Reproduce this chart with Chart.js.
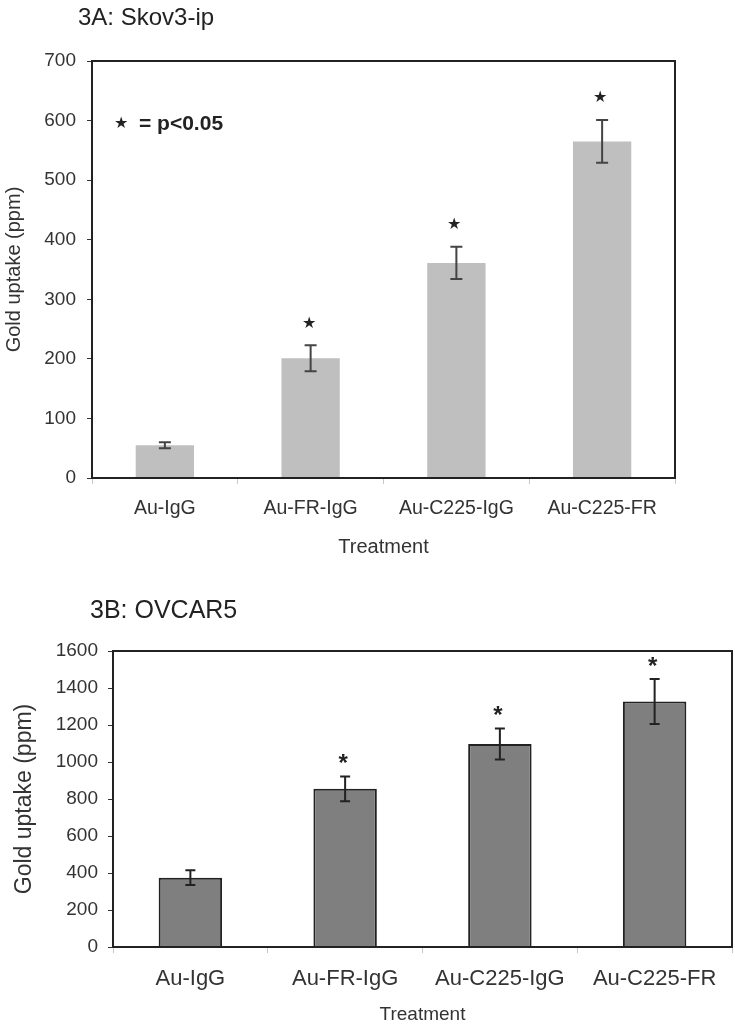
<!DOCTYPE html>
<html>
<head>
<meta charset="utf-8">
<script src="https://cdn.jsdelivr.net/npm/chart.js@4"></script>
<style>
  body { margin: 0; background: #fff; }
  .panel { position: absolute; left: 0; width: 735px; }
  #panelA { top: 0; height: 560px; }
  #panelB { top: 590px; height: 436px; }
</style>
</head>
<body>
<div class="panel" id="panelA"><canvas id="chartA"></canvas></div>
<div class="panel" id="panelB"><canvas id="chartB"></canvas></div>
<script>
const categories = ['Au-IgG', 'Au-FR-IgG', 'Au-C225-IgG', 'Au-C225-FR'];

// 3A: Skov3-ip
const skovValues = [55, 201, 361, 565];
const skovErrors = [5, 22, 27, 36];
const skovSignificant = [false, true, true, true];

// 3B: OVCAR5
const ovcarValues = [375, 855, 1097, 1327];
const ovcarErrors = [40, 67, 84, 122];
const ovcarSignificant = [false, true, true, true];

const FONT = '"Liberation Sans", Arial, sans-serif';
Chart.defaults.font.family = FONT;
Chart.defaults.color = '#333';

// draws the frame, error bars, significance marks and panel text
const extras = {
    id: 'extras',
    afterDatasetsDraw(chart, args, opts) {
        const ctx = chart.ctx;
        const area = chart.chartArea;
        const y = chart.scales.y;
        const bars = chart.getDatasetMeta(0).data;

        ctx.save();
        // error bars
        ctx.strokeStyle = opts.errColor;
        ctx.lineWidth = 2;
        bars.forEach((bar, i) => {
            const v = opts.values[i], e = opts.errors[i];
            const top = y.getPixelForValue(v + e);
            const bot = y.getPixelForValue(v - e);
            ctx.beginPath();
            ctx.moveTo(bar.x, top); ctx.lineTo(bar.x, bot);
            ctx.moveTo(bar.x - opts.cap, top); ctx.lineTo(bar.x + opts.cap, top);
            ctx.moveTo(bar.x - opts.cap, bot); ctx.lineTo(bar.x + opts.cap, bot);
            ctx.stroke();
        });

        // significance marks
        ctx.fillStyle = '#222';
        ctx.textAlign = 'center';
        ctx.textBaseline = 'middle';
        ctx.font = opts.starFont;
        bars.forEach((bar, i) => {
            if (!opts.significant[i]) return;
            const top = y.getPixelForValue(opts.values[i] + opts.errors[i]);
            ctx.fillText(opts.star, bar.x - 2, top - opts.starGap);
        });

        // frame
        ctx.strokeStyle = '#222';
        ctx.lineWidth = 2;
        ctx.strokeRect(area.left, area.top, area.right - area.left, area.bottom - area.top);

        // note
        if (opts.note) {
            ctx.textAlign = 'left';
            ctx.font = '16px ' + FONT;
            ctx.fillText('\u2605', area.left + 22, area.top + 63);
            ctx.font = 'bold 21px ' + FONT;
            ctx.fillText(opts.note, area.left + 47, area.top + 63);
        }

        // panel title
        ctx.fillStyle = '#222';
        ctx.textAlign = 'left';
        ctx.font = opts.titleFont;
        ctx.fillText(opts.title, opts.titleX, opts.titleY);
        ctx.restore();
    }
};

function makeChart(id, cfg) {
    return new Chart(document.getElementById(id), {
        type: 'bar',
        data: {
            labels: categories,
            datasets: [{
                data: cfg.values,
                backgroundColor: cfg.barColor,
                borderColor: cfg.barBorder,
                borderWidth: cfg.barBorderWidth,
                categoryPercentage: 1,
                barPercentage: cfg.barPct
            }]
        },
        options: {
            responsive: true,
            maintainAspectRatio: false,
            animation: false,
            layout: { padding: cfg.padding },
            plugins: {
                legend: { display: false },
                tooltip: { enabled: false },
                extras: cfg.extras
            },
            scales: {
                x: {
                    afterFit: (s) => { s.height = cfg.xHeight; },
                    border: { display: false },
                    grid: { drawOnChartArea: false, tickLength: 6, color: '#c8c8c8' },
                    ticks: { font: { size: cfg.xFont }, color: '#333', padding: cfg.xPad },
                    title: { display: true, text: 'Treatment', font: { size: cfg.xTitleFont }, color: '#333', padding: { top: 0, bottom: cfg.xTitlePad } }
                },
                y: {
                    min: 0, max: cfg.max,
                    afterFit: (s) => { s.width = cfg.yWidth; },
                    border: { display: false },
                    grid: { drawOnChartArea: false, tickLength: 5, color: '#333' },
                    ticks: { stepSize: cfg.step, font: { size: cfg.yFont }, color: '#333', padding: cfg.yPad, callback: (v) => String(v) },
                    title: { display: true, text: 'Gold uptake (ppm)', font: { size: cfg.yTitleFont }, color: '#333', padding: { top: cfg.yTitlePad, bottom: 0 } }
                }
            }
        },
        plugins: [extras]
    });
}

makeChart('chartA', {
    values: skovValues, max: 700, step: 100,
    barColor: '#bfbfbf', barBorder: '#bfbfbf', barBorderWidth: 0, barPct: 0.4,
    padding: { left: 0, right: 60, top: 61, bottom: 0 },
    xHeight: 82, yWidth: 92,
    xFont: 19.5, xPad: 13, xTitleFont: 20, xTitlePad: 1,
    yFont: 19, yPad: 11, yTitleFont: 20, yTitlePad: 2,
    extras: {
        values: skovValues, errors: skovErrors, significant: skovSignificant,
        errColor: '#444', cap: 6, star: '\u2605', starFont: '16px ' + FONT, starGap: 22,
        note: '= p<0.05',
        title: '3A: Skov3-ip', titleFont: '24px ' + FONT, titleX: 78, titleY: 18
    }
});

makeChart('chartB', {
    values: ovcarValues, max: 1600, step: 200,
    barColor: '#7f7f7f', barBorder: '#222', barBorderWidth: 2, barPct: 0.41,
    padding: { left: 0, right: 3, top: 61, bottom: 0 },
    xHeight: 79, yWidth: 113,
    xFont: 22, xPad: 13, xTitleFont: 19, xTitlePad: 0,
    yFont: 19, yPad: 10, yTitleFont: 23, yTitlePad: 11,
    extras: {
        values: ovcarValues, errors: ovcarErrors, significant: ovcarSignificant,
        errColor: '#222', cap: 5, star: '*', starFont: 'bold 24px ' + FONT, starGap: 12,
        note: null,
        title: '3B: OVCAR5', titleFont: '25px ' + FONT, titleX: 90, titleY: 21
    }
});
</script>
</body>
</html>
